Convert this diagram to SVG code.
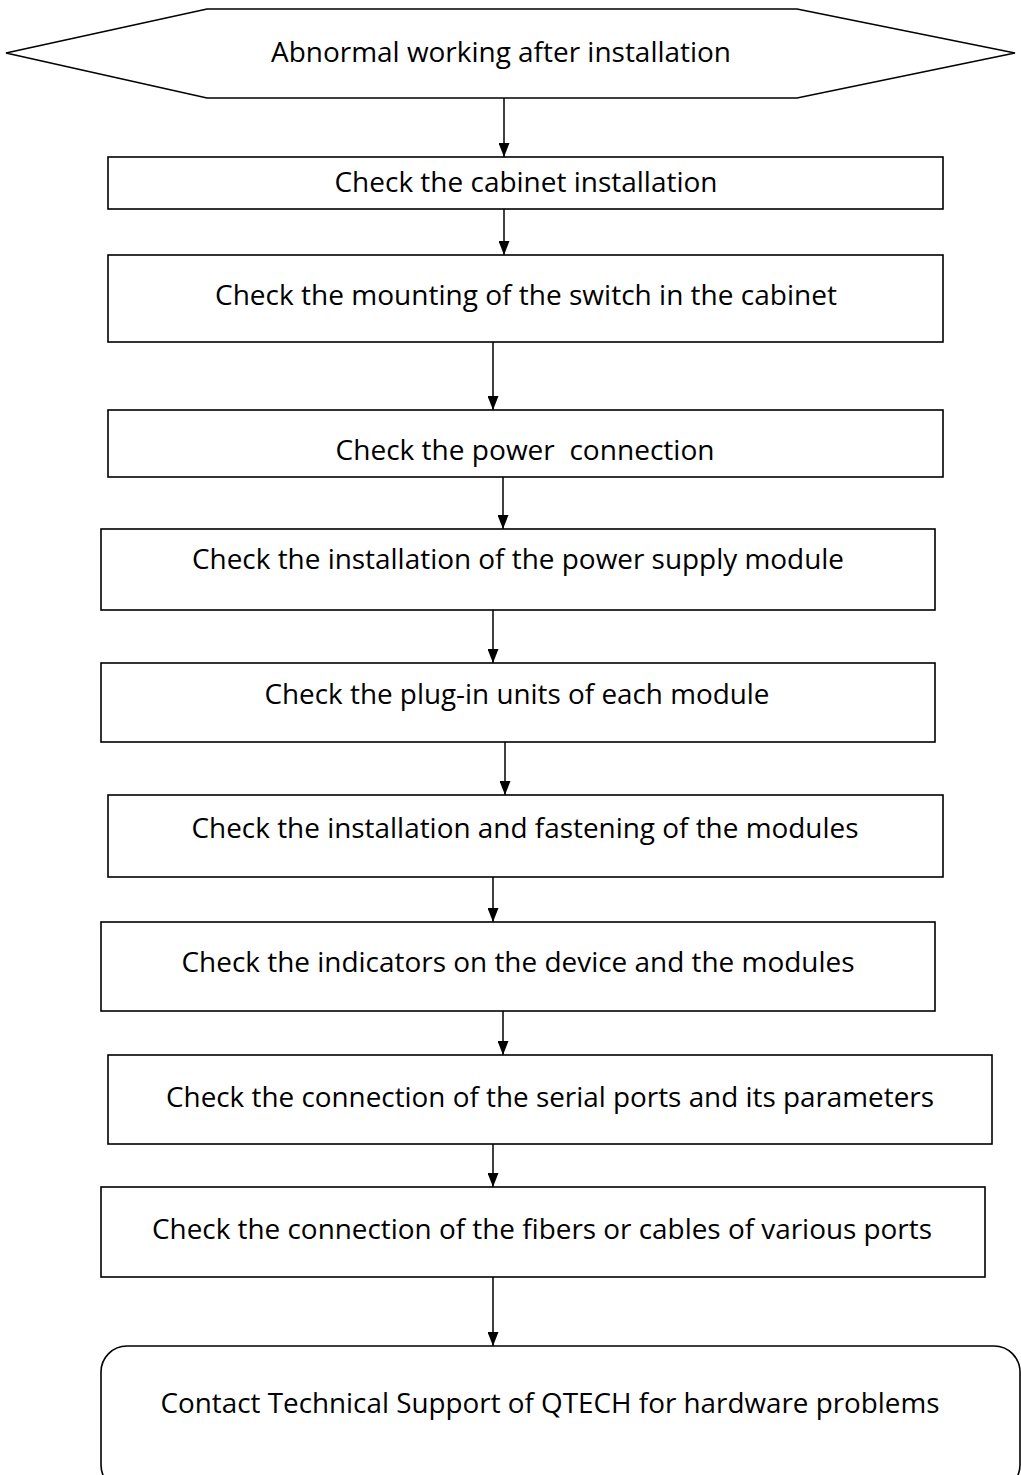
<svg xmlns="http://www.w3.org/2000/svg" width="1021" height="1475" viewBox="0 0 1021 1475">
<style>
.n{fill:#fff;stroke:#000;stroke-width:1.6}
.t{font-family:"Open Sans","Liberation Sans",sans-serif;font-size:27px;fill:#000;text-anchor:middle}
.c{stroke:#000;stroke-width:1.5;fill:none;marker-end:url(#ah)}
</style>
<defs>
<marker id="ah" markerWidth="14" markerHeight="11" refX="14" refY="5.5" orient="auto" markerUnits="userSpaceOnUse" viewBox="0 0 14 11">
<path d="M0,0 L14,5.5 L0,11 Z" fill="#000"/>
</marker>
</defs>
<rect width="1021" height="1475" fill="#fff"/>
<g id="connectors">
<line class="c" x1="504" y1="98" x2="504" y2="157"/>
<line class="c" x1="504" y1="209" x2="504" y2="255"/>
<line class="c" x1="493" y1="342" x2="493" y2="410"/>
<line class="c" x1="503" y1="477" x2="503" y2="529"/>
<line class="c" x1="493" y1="610" x2="493" y2="663"/>
<line class="c" x1="505" y1="742" x2="505" y2="795"/>
<line class="c" x1="493" y1="877" x2="493" y2="922"/>
<line class="c" x1="503" y1="1011" x2="503" y2="1055"/>
<line class="c" x1="493" y1="1144" x2="493" y2="1187"/>
<line class="c" x1="493" y1="1277" x2="493" y2="1346"/>
</g>
<g id="start">
<polygon class="n" points="6,53 207,9 797,9 1015,53 797,98 207,98"/>
<text class="t" x="501" y="62" textLength="460" lengthAdjust="spacingAndGlyphs">Abnormal working after installation</text>
</g>
<g id="step1">
<rect class="n" x="108" y="157" width="835" height="52"/>
<text class="t" x="526" y="192" textLength="383" lengthAdjust="spacingAndGlyphs">Check the cabinet installation</text>
</g>
<g id="step2">
<rect class="n" x="108" y="255" width="835" height="87"/>
<text class="t" x="526" y="305" textLength="622" lengthAdjust="spacingAndGlyphs">Check the mounting of the switch in the cabinet</text>
</g>
<g id="step3">
<rect class="n" x="108" y="410" width="835" height="67"/>
<text class="t" x="525" y="460" textLength="379" lengthAdjust="spacingAndGlyphs" xml:space="preserve">Check the power  connection</text>
</g>
<g id="step4">
<rect class="n" x="101" y="529" width="834" height="81"/>
<text class="t" x="518" y="569" textLength="652" lengthAdjust="spacingAndGlyphs">Check the installation of the power supply module</text>
</g>
<g id="step5">
<rect class="n" x="101" y="663" width="834" height="79"/>
<text class="t" x="517" y="704" textLength="505" lengthAdjust="spacingAndGlyphs">Check the plug-in units of each module</text>
</g>
<g id="step6">
<rect class="n" x="108" y="795" width="835" height="82"/>
<text class="t" x="525" y="838" textLength="667" lengthAdjust="spacingAndGlyphs">Check the installation and fastening of the modules</text>
</g>
<g id="step7">
<rect class="n" x="101" y="922" width="834" height="89"/>
<text class="t" x="518" y="972" textLength="673" lengthAdjust="spacingAndGlyphs">Check the indicators on the device and the modules</text>
</g>
<g id="step8">
<rect class="n" x="108" y="1055" width="884" height="89"/>
<text class="t" x="550" y="1107" textLength="768" lengthAdjust="spacingAndGlyphs">Check the connection of the serial ports and its parameters</text>
</g>
<g id="step9">
<rect class="n" x="101" y="1187" width="884" height="90"/>
<text class="t" x="542" y="1239" textLength="780" lengthAdjust="spacingAndGlyphs">Check the connection of the fibers or cables of various ports</text>
</g>
<g id="end">
<rect class="n" x="101" y="1346" width="919" height="145" rx="26" ry="26"/>
<text class="t" x="550" y="1413" textLength="779" lengthAdjust="spacingAndGlyphs">Contact Technical Support of QTECH for hardware problems</text>
</g>
</svg>
